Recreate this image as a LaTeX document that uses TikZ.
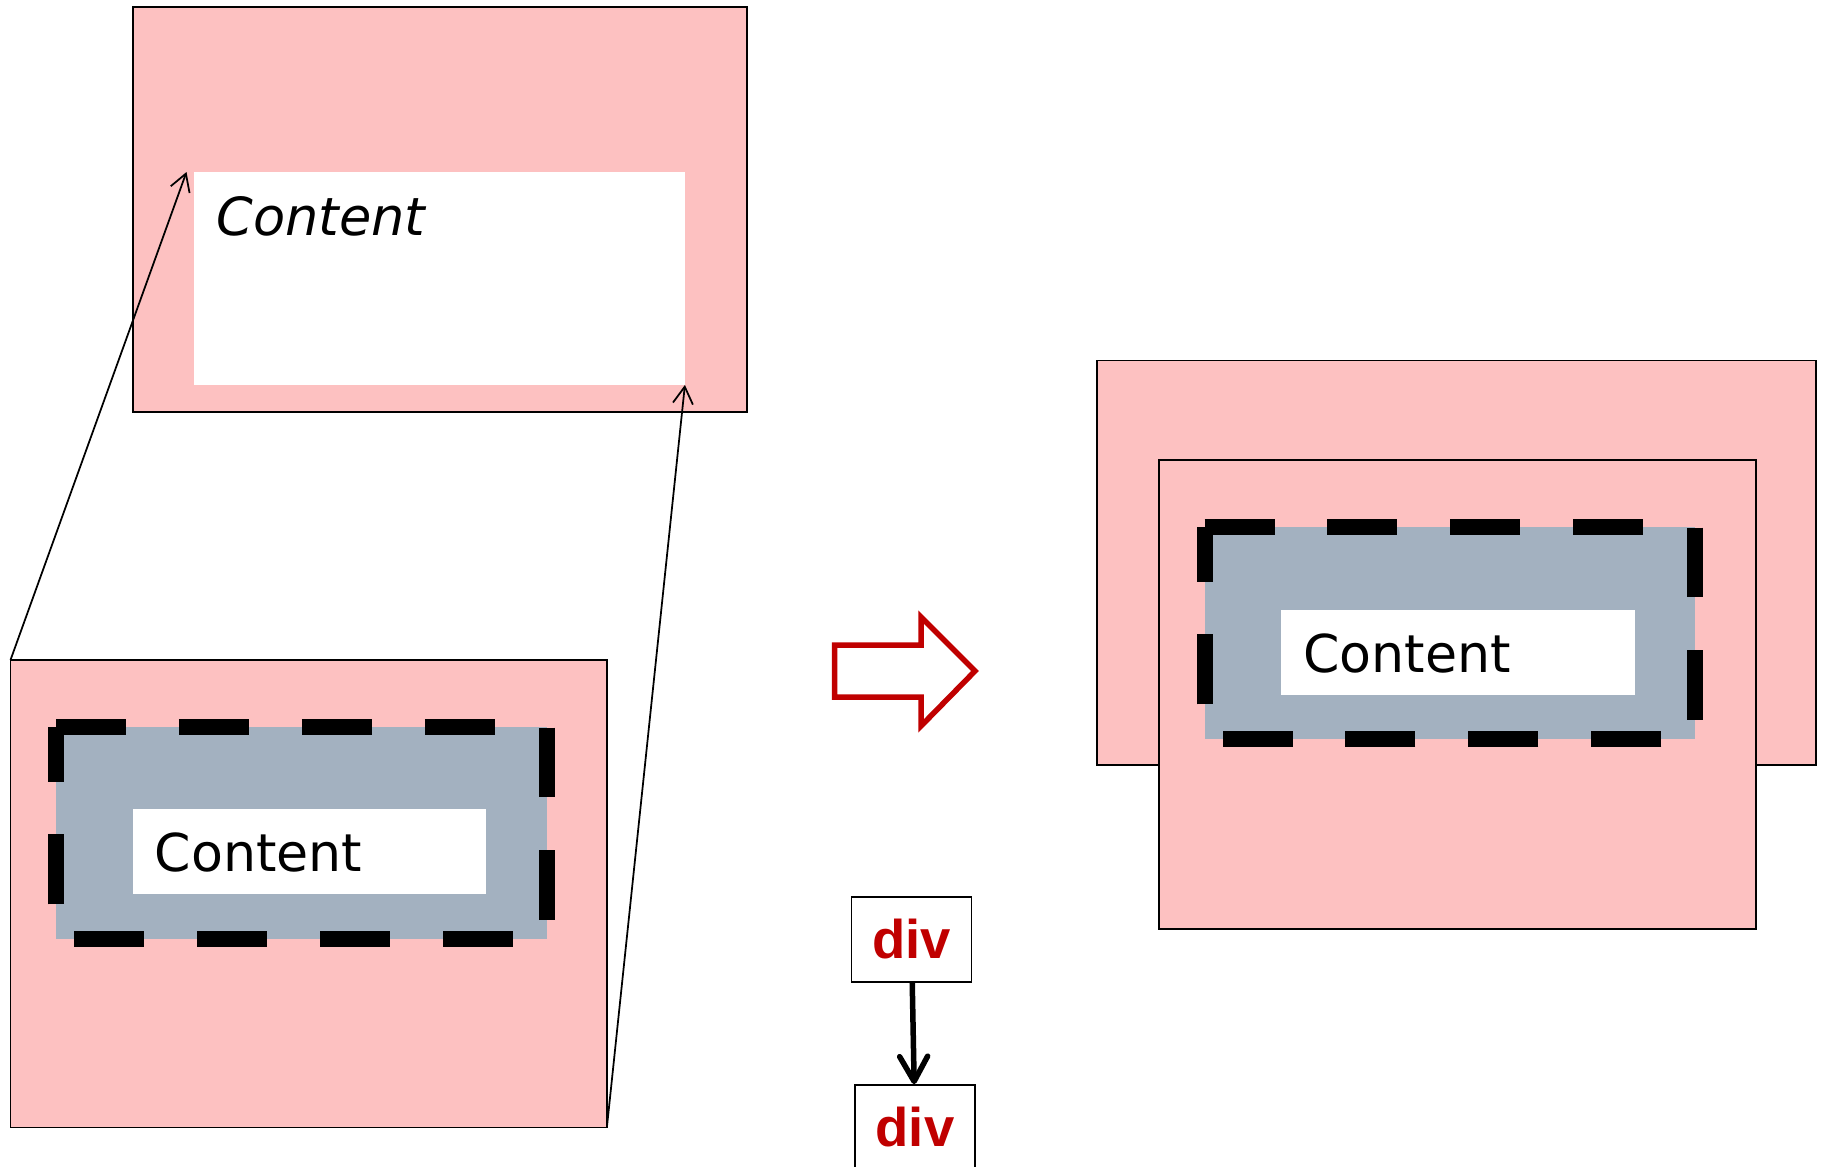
\documentclass[tikz,border=0pt]{standalone}
\usepackage{fontspec}
\setmainfont{DejaVu Sans}
\newfontfamily\divfont{Liberation Sans}
\usetikzlibrary{arrows.meta}
\definecolor{boxpink}{RGB}{253,193,193}
\definecolor{padgray}{RGB}{163,177,192}
\definecolor{divred}{RGB}{192,0,0}

\begin{document}
\begin{tikzpicture}[
        x = .02cm, y = -.02cm,
        marginbox/.style = {draw, line width = .035cm, fill = boxpink, inner sep = 0, outer sep = 0, anchor = north west},
        padbox/.style = {fill = padgray, inner sep = 0, outer sep = 0, anchor = north west, minimum width = 9.82cm, minimum height = 4.26cm},
        contentbox/.style = {fill = white, inner sep = 0, outer sep = 0, anchor = north west},
        contenttext/.style = {inner sep = 0, anchor = base west, font = \fontsize{29.7}{34}\selectfont},
        dashborder/.style = {line width = .32cm, dash pattern = on 1.4cm off 1.06cm},
        divbox/.style = {draw, line width = .035cm, minimum width = 2.4cm, minimum height = 1.7cm, inner sep = 0, text = divred, font = \divfont\bfseries\fontsize{31}{36}\selectfont},
        pointer/.style = {line width = .035cm, -{Straight Barb[length = .34cm, width = .4cm]}}
    ]
        \useasboundingbox (0, 0) rectangle (1824, 1166);

        \node[marginbox, minimum width = 12.28cm, minimum height = 8.10cm] (topbox) at (133, 7) {};
        \node[contentbox, minimum width = 9.82cm, minimum height = 4.26cm] (topcontent) at (194, 172) {};
        \node[contenttext, font = \fontsize{29.9}{34}\selectfont\itshape] (toptext) at (216, 235.5) {Content};

        \begin{scope}[shift={(10.5, 660)}]
            \node[marginbox, minimum width = 11.93cm, minimum height = 9.35cm] (lowbox) at (0, 0) {};
            \node[padbox] (lowpad) at (45.5, 66.5) {};
            \draw[dashborder] (lowpad.north west) -- (lowpad.north east) -- (lowpad.south east) -- (lowpad.south west) -- (lowpad.north west);
            \node[contentbox, minimum width = 7.08cm, minimum height = 1.71cm] (lowcontent) at (122, 149) {};
            \node[contenttext] (lowtext) at (144, 211.5) {Content};
        \end{scope}

        \node[marginbox, minimum width = 14.38cm, minimum height = 8.09cm] (outerbox) at (1097, 360.5) {};
        \begin{scope}[shift={(1159, 460)}]
            \node[marginbox, minimum width = 11.94cm, minimum height = 9.38cm] (innerbox) at (0, 0) {};
            \node[padbox] (innerpad) at (45.5, 66.5) {};
            \draw[dashborder] (innerpad.north west) -- (innerpad.north east) -- (innerpad.south east) -- (innerpad.south west) -- (innerpad.north west);
            \node[contentbox, minimum width = 7.08cm, minimum height = 1.70cm] (innercontent) at (122, 150) {};
            \node[contenttext] (innertext) at (144, 212.5) {Content};
        \end{scope}

        \draw[divred, line width = .11cm, fill = white] (834.6, 645) -- (921, 645) -- (921, 617) -- (975, 671) -- (921, 726) -- (921, 697) -- (834.6, 697) -- cycle;

        \node[divbox] (div1) at (911.4, 939.5) {div};
        \node[divbox] (div2) at (915, 1127.5) {div};
        \draw[line width = .11cm, -{Straight Barb[length = .5cm, width = .56cm, round]}] (div1) -- (div2);

        \draw[pointer] (lowbox.north west) -- ([xshift = -.15cm]topcontent.north west);
        \draw[pointer] (lowbox.south east) -- (topcontent.south east);
    \end{tikzpicture}
\end{document}
